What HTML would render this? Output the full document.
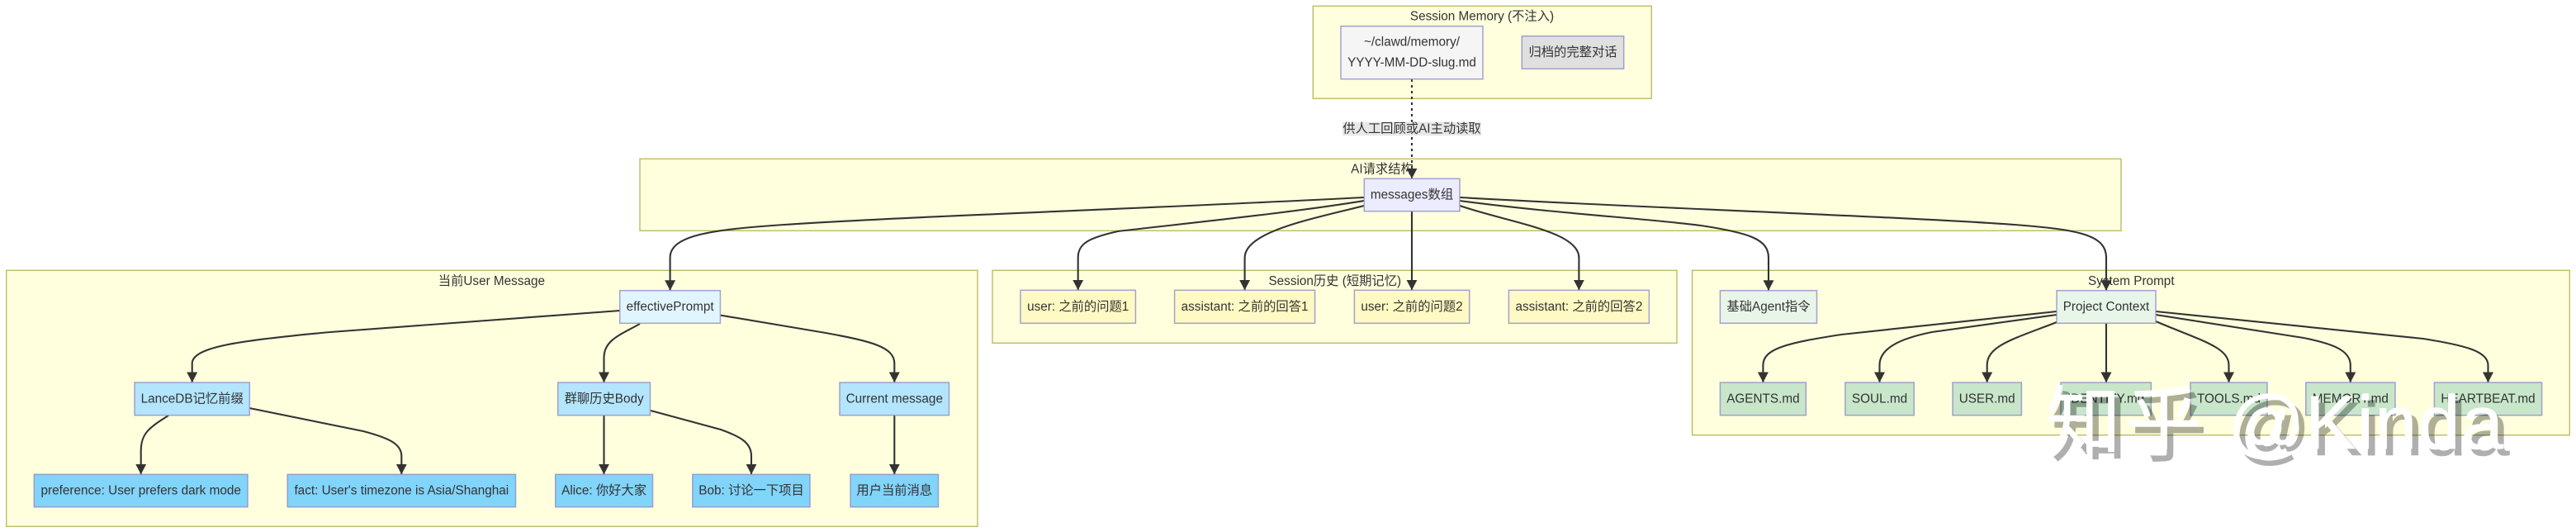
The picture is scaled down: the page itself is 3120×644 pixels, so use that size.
<!DOCTYPE html>
<html><head><meta charset="utf-8"><style>
html,body{margin:0;padding:0;background:#fff;width:3120px;height:644px;overflow:hidden}
svg{display:block}
text{font-family:"Liberation Sans","Noto Sans CJK SC",sans-serif;font-size:15.3px;fill:#333;text-anchor:middle;dominant-baseline:central}
.c{fill:#ffffde;stroke:#bcbc66;stroke-width:1.4}
.n{stroke:#8f8cc8;stroke-opacity:.8;stroke-width:1.5}
.a{fill:#333;stroke:none}
.wm text{font-size:92px;text-anchor:start;dominant-baseline:alphabetic}
</style></head><body>
<svg width="3120" height="644" viewBox="0 0 3120 644" xmlns="http://www.w3.org/2000/svg">
<defs><marker id="h" markerUnits="userSpaceOnUse" markerWidth="14" markerHeight="14" refX="12.5" refY="7" orient="auto"><path class="a" d="M0,0.5L12.5,7L0,13.5z"/></marker></defs>
<!-- clusters -->
<rect class="c" x="1590.3" y="7.3" width="410" height="112"/>
<rect class="c" x="775" y="192.3" width="1794" height="87"/>
<rect class="c" x="7.7" y="327.3" width="1176.3" height="310"/>
<rect class="c" x="1202" y="327.3" width="829" height="88"/>
<rect class="c" x="2049.6" y="327.3" width="1062.7" height="199.4"/>
<text x="1795" y="20">Session Memory (不注入)</text>
<text x="1674" y="205">AI请求结构</text>
<text x="595.4" y="340.5">当前User Message</text>
<text x="1616.8" y="340.5">Session历史 (短期记忆)</text>
<text x="2581.3" y="340.5">System Prompt</text>
<!-- edges -->
<g style="fill:none;stroke:#333;stroke-width:2.1">
<path stroke-dasharray="3 4" marker-end="url(#h)" d="M1710,96V216.3"/>
<path marker-end="url(#h)" d="M1652,239C1400,252 1100,262 950,272C860,278 811.6,285 811.6,312V351.7"/>
<path marker-end="url(#h)" d="M1652,243C1560,258 1440,270 1354,280C1318,288 1305.7,295 1305.7,312V351.3"/>
<path marker-end="url(#h)" d="M1652,249C1590,265 1507.6,280 1507.6,312V351.3"/>
<path marker-end="url(#h)" d="M1710,256V351.3"/>
<path marker-end="url(#h)" d="M1768,249C1830,270 1912.4,280 1912.4,312V351.3"/>
<path marker-end="url(#h)" d="M1768,243C1880,258 2000,265 2060,273C2120,282 2142,290 2142,312V351.7"/>
<path marker-end="url(#h)" d="M1768,239C2000,252 2300,262 2440,272C2520,278 2551,285 2551,312V351.7"/>
<path marker-end="url(#h)" d="M751,376L400,402C290,412 232.7,420 232.7,440V463"/>
<path marker-end="url(#h)" d="M775,392C750,406 731.5,412 731.5,433V463"/>
<path marker-end="url(#h)" d="M872,381.5L1000,403C1055,413 1083.3,420 1083.3,440V463"/>
<path marker-end="url(#h)" d="M204,503C180,518 170.7,525 170.7,546V574.3"/>
<path marker-end="url(#h)" d="M302,494L440,522C470,530 486.3,537 486.3,552V574.3"/>
<path marker-end="url(#h)" d="M731.5,503V574.3"/>
<path marker-end="url(#h)" d="M788,497L873,520C895,528 910,535 910,552V574.3"/>
<path marker-end="url(#h)" d="M1083.3,503V574.3"/>
<path marker-end="url(#h)" d="M2491,377L2230,405C2165,415 2135.4,422 2135.4,442V463"/>
<path marker-end="url(#h)" d="M2491,381L2340,402C2300,410 2276.5,422 2276.5,442V463"/>
<path marker-end="url(#h)" d="M2491,390C2440,410 2406.7,418 2406.7,442V463"/>
<path marker-end="url(#h)" d="M2551,391V463"/>
<path marker-end="url(#h)" d="M2611,389C2665,412 2699.5,420 2699.5,442V463"/>
<path marker-end="url(#h)" d="M2611,381L2790,409C2825,416 2846.8,424 2846.8,442V463"/>
<path marker-end="url(#h)" d="M2611,377L2935,410C2985,418 3013.5,425 3013.5,442V463"/>
</g>
<!-- edge label -->
<rect x="1626" y="147.7" width="168" height="16.5" fill="#e8e8e8"/>
<text x="1710" y="156">供人工回顾或AI主动读取</text>
<!-- nodes -->
<g class="n">
<rect x="1624" y="31.7" width="172" height="64" fill="#f5f5f5"/>
<rect x="1843.3" y="43.7" width="123.4" height="39.6" fill="#e0e0e0"/>
<rect x="1652.3" y="216.3" width="115.7" height="39.4" fill="#ececff"/>
<rect x="750.7" y="351.7" width="121.7" height="39.6" fill="#e1f5fe"/>
<rect x="163" y="463" width="139.3" height="39.7" fill="#b3e5fc"/>
<rect x="675.7" y="463" width="111.8" height="39.7" fill="#b3e5fc"/>
<rect x="1017" y="463" width="132.5" height="39.7" fill="#b3e5fc"/>
<rect x="41.3" y="574.3" width="258.7" height="39.4" fill="#81d4fa"/>
<rect x="348.2" y="574.3" width="276.3" height="39.4" fill="#81d4fa"/>
<rect x="672.7" y="574.3" width="117.8" height="39.4" fill="#81d4fa"/>
<rect x="838.8" y="574.3" width="142.2" height="39.4" fill="#81d4fa"/>
<rect x="1030" y="574.3" width="106.5" height="39.4" fill="#81d4fa"/>
<rect x="1236" y="351.3" width="139.4" height="40" fill="#fff9c4"/>
<rect x="1422.6" y="351.3" width="170" height="40" fill="#fff9c4"/>
<rect x="1640.4" y="351.3" width="139.3" height="40" fill="#fff9c4"/>
<rect x="1827.4" y="351.3" width="170" height="40" fill="#fff9c4"/>
<rect x="2083.4" y="351.7" width="117.1" height="39.6" fill="#e8f5e9"/>
<rect x="2491" y="351.7" width="120" height="39.6" fill="#e8f5e9"/>
<rect x="2083.4" y="463" width="104" height="39.7" fill="#c8e6c9"/>
<rect x="2234.9" y="463" width="83.3" height="39.7" fill="#c8e6c9"/>
<rect x="2365" y="463" width="83.4" height="39.7" fill="#c8e6c9"/>
<rect x="2496" y="463" width="109.4" height="39.7" fill="#c8e6c9"/>
<rect x="2653" y="463" width="93" height="39.7" fill="#c8e6c9"/>
<rect x="2792.8" y="463" width="108.2" height="39.7" fill="#c8e6c9"/>
<rect x="2948.4" y="463" width="130.2" height="39.7" fill="#c8e6c9"/>
</g>
<!-- node labels -->
<text x="1710" y="51">~/clawd/memory/</text>
<text x="1710" y="76">YYYY-MM-DD-slug.md</text>
<text x="1905" y="63.5">归档的完整对话</text>
<text x="1710" y="236">messages数组</text>
<text x="811.6" y="371.5">effectivePrompt</text>
<text x="232.7" y="483">LanceDB记忆前缀</text>
<text x="731.6" y="483">群聊历史Body</text>
<text x="1083.3" y="483">Current message</text>
<text x="170.7" y="594">preference: User prefers dark mode</text>
<text x="486.3" y="594">fact: User's timezone is Asia/Shanghai</text>
<text x="731.6" y="594">Alice: 你好大家</text>
<text x="910" y="594">Bob: 讨论一下项目</text>
<text x="1083.3" y="594">用户当前消息</text>
<text x="1305.7" y="371.3">user: 之前的问题1</text>
<text x="1507.6" y="371.3">assistant: 之前的回答1</text>
<text x="1710" y="371.3">user: 之前的问题2</text>
<text x="1912.4" y="371.3">assistant: 之前的回答2</text>
<text x="2142" y="371.5">基础Agent指令</text>
<text x="2551" y="371.5">Project Context</text>
<text x="2135.4" y="483">AGENTS.md</text>
<text x="2276.5" y="483">SOUL.md</text>
<text x="2406.7" y="483">USER.md</text>
<text x="2550.7" y="483">IDENTITY.md</text>
<text x="2699.5" y="483">TOOLS.md</text>
<text x="2846.8" y="483">MEMORY.md</text>
<text x="3013.5" y="483">HEARTBEAT.md</text>
<!-- watermark -->
<g class="wm" opacity=".31" transform="translate(7.5,8)" style="stroke:#000;stroke-width:.6">
<text x="2477" y="543" letter-spacing="5" style="fill:#000">知乎</text>
<text x="2698" y="543" style="fill:#000">@</text>
<text x="2792" y="543" textLength="240" lengthAdjust="spacing" style="fill:#000">Kinda</text>
</g>
<g class="wm" style="stroke:#fff;stroke-width:.6">
<text x="2477" y="543" letter-spacing="5" style="fill:#fff">知乎</text>
<text x="2698" y="543" style="fill:#fff">@</text>
<text x="2792" y="543" textLength="240" lengthAdjust="spacing" style="fill:#fff">Kinda</text>
</g>
</svg>
</body></html>
